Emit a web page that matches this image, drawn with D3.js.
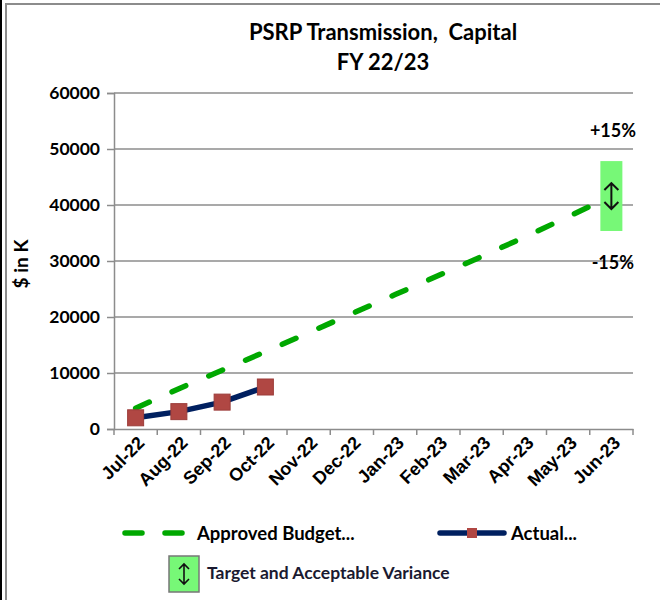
<!DOCTYPE html>
<html><head><meta charset="utf-8">
<script src="https://cdn.jsdelivr.net/npm/d3@7"></script>
<style>html,body{margin:0;padding:0;background:#fff;}svg{display:block;}</style>
</head><body>
<script>
const months = ["Jul-22","Aug-22","Sep-22","Oct-22","Nov-22","Dec-22","Jan-23","Feb-23","Mar-23","Apr-23","May-23","Jun-23"];
const budget = [3700,7200,10500,13800,17200,20600,24000,27400,30800,34300,37900,41600];
const actual = [2000,3100,4800,7500];
const target = [{month:"Jun-23", value:41600, lo:35360, hi:47840}];
const yTicks = [0,10000,20000,30000,40000,50000,60000];
const title = ["PSRP Transmission,\u00a0 Capital","FY 22/23"];

const W=660,H=600;
const svg=d3.select("body").append("svg").attr("width",W).attr("height",H);
const F="Lato, 'Open Sans', sans-serif";
const grey="#8c8c8c";

// frame
svg.append("line").attr("x1",1).attr("x2",1).attr("y1",0).attr("y2",H).attr("stroke","#000").attr("stroke-width",2);
svg.append("path").attr("d",`M6,${H} V4 H${W}`).attr("fill","none").attr("stroke",grey).attr("stroke-width",2);

const x=d3.scaleBand().domain(months).range([114,633]).padding(0);
const y=d3.scaleLinear().domain([0,60000]).range([429,93]);
const cx=m=>x(m)+x.bandwidth()/2;

// title
svg.append("text").attr("x",383).attr("y",40).attr("text-anchor","middle").attr("font-family",F).attr("font-weight","bold").attr("font-size",22).text(title[0]);
svg.append("text").attr("x",383).attr("y",70).attr("text-anchor","middle").attr("font-family",F).attr("font-weight","bold").attr("font-size",22).text(title[1]);

// gridlines
svg.append("g").selectAll("line").data(yTicks.filter(d=>d>0)).join("line")
  .attr("x1",114).attr("x2",633).attr("y1",d=>y(d)).attr("y2",d=>y(d))
  .attr("stroke",grey).attr("stroke-width",1.5);

// y axis
const ya=svg.append("g").attr("transform","translate(114,0)")
  .call(d3.axisLeft(y).tickValues(yTicks).tickSize(7).tickPadding(7).tickFormat(d3.format("d")));
ya.select(".domain").attr("stroke",grey).attr("stroke-width",1.5);
ya.selectAll(".tick line").attr("stroke",grey).attr("stroke-width",1.5);
ya.selectAll("text").attr("font-family",F).attr("font-weight","bold").attr("font-size",17.5).attr("fill","#000");

// x axis
const xa=svg.append("g").attr("transform","translate(0,429)")
  .call(d3.axisBottom(x).tickSize(0).tickPadding(0));
xa.select(".domain").attr("stroke",grey).attr("stroke-width",1.5);
xa.selectAll(".tick line").remove();
xa.selectAll(".tick text").attr("font-family","'Liberation Sans', Arial, sans-serif").attr("font-weight","bold").attr("font-size",18).attr("fill","#000")
  .attr("text-anchor","end").attr("dy",0).attr("transform","translate(10,15) rotate(-45)");
// x tick marks at band boundaries
svg.append("g").selectAll("line").data(months.concat(["__end"])).join("line")
  .attr("x1",(d,i)=>x.range()[0]+i*x.bandwidth()).attr("x2",(d,i)=>x.range()[0]+i*x.bandwidth())
  .attr("y1",429).attr("y2",435).attr("stroke",grey).attr("stroke-width",1.5);

// y title
svg.append("text").attr("transform","translate(28,264) rotate(-90)").attr("text-anchor","middle")
  .attr("font-family",F).attr("font-weight","bold").attr("font-size",19).text("$ in K");

// budget line
const line=d3.line().x((d,i)=>cx(months[i])).y(d=>y(d));
svg.append("path").datum(budget).attr("d",line).attr("fill","none").attr("stroke","#00a800")
  .attr("stroke-width",5.5).attr("stroke-linecap","round").attr("stroke-dasharray","15,25");

// actual line
svg.append("path").datum(actual).attr("d",line).attr("fill","none").attr("stroke","#002060").attr("stroke-width",5.5);
svg.append("g").selectAll("rect").data(actual).join("rect")
  .attr("x",(d,i)=>cx(months[i])-8).attr("y",d=>y(d)-8).attr("width",16).attr("height",16)
  .attr("fill","#b04743").attr("stroke","#9c3d3a").attr("stroke-width",1);

// arrow helper
function arrow(g,xc,y1,y2,hw,sw){
  g.append("path").attr("d",`M${xc},${y1+1} V${y2-1} M${xc-hw},${y1+hw} L${xc},${y1} L${xc+hw},${y1+hw} M${xc-hw},${y2-hw} L${xc},${y2} L${xc+hw},${y2-hw}`)
   .attr("fill","none").attr("stroke","#111").attr("stroke-width",sw);
}

// target box
target.forEach(t=>{
  const xc=cx(t.month);
  svg.append("rect").attr("x",xc-11).attr("y",y(t.hi)).attr("width",22).attr("height",y(t.lo)-y(t.hi)).attr("fill","#77f877");
  arrow(svg,xc,y(t.value)-13,y(t.value)+13,7,2);
  svg.append("text").attr("x",636).attr("y",y(t.hi)-24).attr("text-anchor","end").attr("font-family",F).attr("font-weight","bold").attr("font-size",18).text("+15%");
  svg.append("text").attr("x",634).attr("y",y(t.lo)+38).attr("text-anchor","end").attr("font-family",F).attr("font-weight","bold").attr("font-size",18).text("-15%");
});

// legend
const lg=svg.append("g");
lg.append("line").attr("x1",125).attr("x2",185).attr("y1",533).attr("y2",533).attr("stroke","#00a800").attr("stroke-width",5.5).attr("stroke-linecap","round").attr("stroke-dasharray","17,23");
lg.append("text").attr("x",197).attr("y",540).attr("font-family",F).attr("font-weight","bold").attr("font-size",18.5).text("Approved Budget...");
lg.append("line").attr("x1",440).attr("x2",504).attr("y1",533).attr("y2",533).attr("stroke","#002060").attr("stroke-width",5.5).attr("stroke-linecap","round");
lg.append("rect").attr("x",467).attr("y",528).attr("width",10).attr("height",10).attr("fill","#b04743");
lg.append("text").attr("x",511).attr("y",540).attr("font-family",F).attr("font-weight","bold").attr("font-size",18.5).text("Actual...");
lg.append("rect").attr("x",169).attr("y",556).attr("width",30).attr("height",36).attr("fill","#77f877").attr("stroke","#777").attr("stroke-width",1.5);
arrow(lg,184,564,584,5,1.6);
lg.append("text").attr("x",207).attr("y",579).attr("font-family",F).attr("font-weight","bold").attr("font-size",17.5).attr("fill","#1a1a30").text("Target and Acceptable Variance");
</script>
</body></html>
